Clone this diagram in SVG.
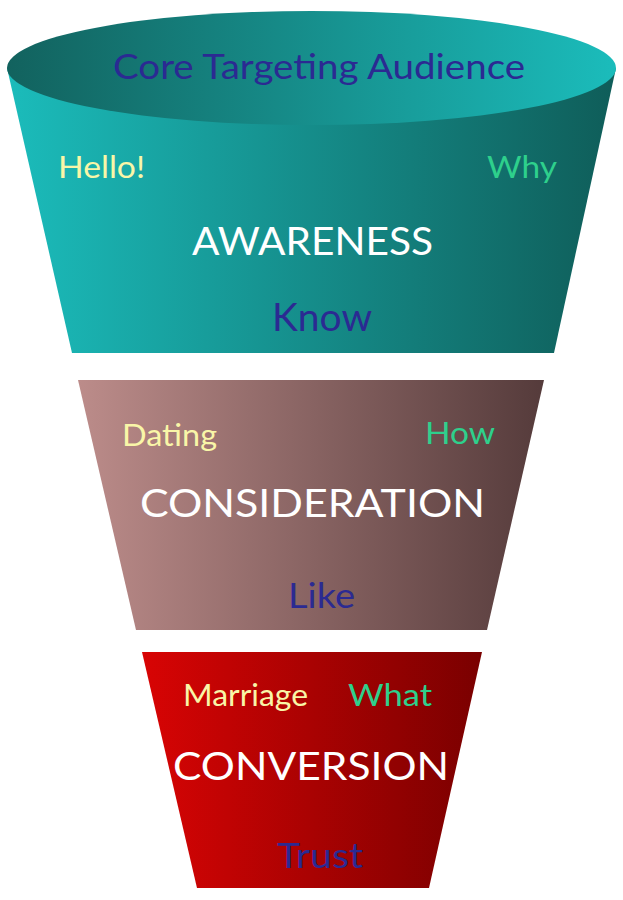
<svg xmlns="http://www.w3.org/2000/svg" width="623" height="900" viewBox="0 0 623 900">
<defs>
<linearGradient id="gTop" x1="0" y1="0" x2="1" y2="0"><stop offset="0" stop-color="#1bbcbb"/><stop offset="1" stop-color="#0f5d59"/></linearGradient>
<linearGradient id="gEll" x1="0" y1="0" x2="1" y2="0"><stop offset="0" stop-color="#12625e"/><stop offset="1" stop-color="#1bbcbb"/></linearGradient>
<linearGradient id="gMid" x1="0" y1="0" x2="1" y2="0"><stop offset="0" stop-color="#bc8c8a"/><stop offset="1" stop-color="#553b3b"/></linearGradient>
<linearGradient id="gBot" x1="0" y1="0" x2="1" y2="0"><stop offset="0" stop-color="#d80404"/><stop offset="1" stop-color="#7a0000"/></linearGradient>
<style>
text{font-family:"Lato","Open Sans",sans-serif}
.b{fill:#2b2a92}.y{fill:#f9f6a8}.g{fill:#2ed08c}.w{fill:#ffffff}
.s{font-size:31px}.l{font-size:39px}
</style>
</defs>
<g id="awareness">
<polygon points="7,68 616,68 554,353 72,353" fill="url(#gTop)"/>
<ellipse cx="311.5" cy="68" rx="304.5" ry="57" fill="url(#gEll)"/>
<text x="319" y="79" text-anchor="middle" font-size="35" class="b" textLength="412" lengthAdjust="spacingAndGlyphs">Core Targeting Audience</text>
<text x="58" y="178" class="s y" textLength="87" lengthAdjust="spacingAndGlyphs">Hello!</text>
<text x="487" y="178" class="s g" textLength="70" lengthAdjust="spacingAndGlyphs">Why</text>
<text x="192" y="255" class="l w" textLength="241" lengthAdjust="spacingAndGlyphs">AWARENESS</text>
<text x="272" y="331" class="l b" font-size="35" textLength="100" lengthAdjust="spacingAndGlyphs">Know</text>
</g>
<g id="consideration">
<polygon points="78,380 544,380 487,630 136,630" fill="url(#gMid)"/>
<text x="122" y="446" class="s y" textLength="95" lengthAdjust="spacingAndGlyphs">Dating</text>
<text x="425" y="444" class="s g" textLength="70" lengthAdjust="spacingAndGlyphs">How</text>
<text x="140" y="517" class="l w" textLength="345" lengthAdjust="spacingAndGlyphs">CONSIDERATION</text>
<text x="288" y="608" class="b" font-size="35" textLength="67" lengthAdjust="spacingAndGlyphs">Like</text>
</g>
<g id="conversion">
<polygon points="142,652 482,652 429,888 197,888" fill="url(#gBot)"/>
<text x="183" y="706" class="s y" textLength="125" lengthAdjust="spacingAndGlyphs">Marriage</text>
<text x="348" y="706" class="s g" textLength="84" lengthAdjust="spacingAndGlyphs">What</text>
<text x="173" y="780" class="l w" textLength="276" lengthAdjust="spacingAndGlyphs">CONVERSION</text>
<text x="277" y="868" class="b" font-size="35" textLength="86" lengthAdjust="spacingAndGlyphs">Trust</text>
</g>
<g id="connectors"/>
</svg>
